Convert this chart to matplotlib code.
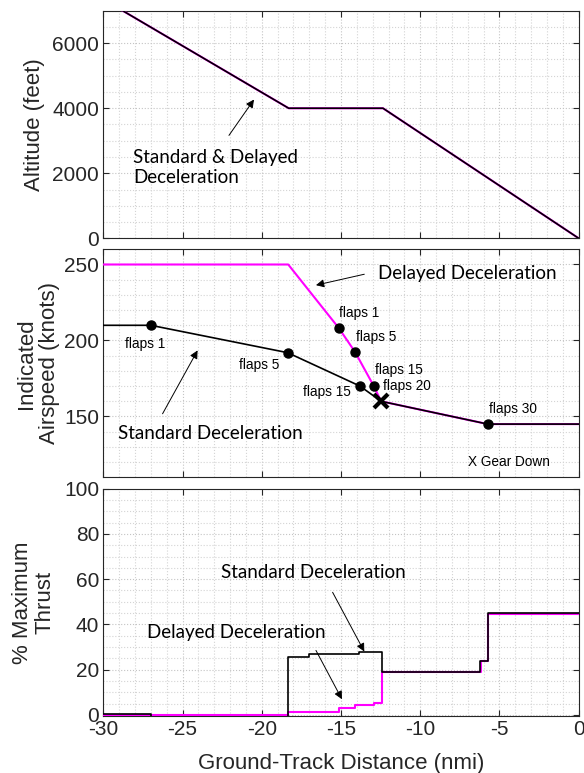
import matplotlib
matplotlib.use("Agg")
import matplotlib.pyplot as plt
from matplotlib.ticker import MultipleLocator

plt.rcParams["axes.unicode_minus"] = False

# ---------------- data ----------------
# Altitude profile (same for standard & delayed)
alt_x = [-30.0, -18.3, -12.35, 0.0]
alt_y = [7350, 4000, 4000, 0]

# Indicated airspeed
std_spd_x = [-30.0, -27.0, -18.37, -13.8, -12.47, -5.74, 0.0]
std_spd_y = [210, 210, 192, 170, 160, 145, 145]
del_spd_x = [-30.0, -18.33, -15.14, -14.11, -12.93, -12.47, -5.74, 0.0]
del_spd_y = [250, 250, 208.2, 192.4, 170, 160, 145, 145]

# Flap-change markers
std_flap_x = [-27.0, -18.37, -13.8, -5.74]
std_flap_y = [210, 192, 170, 145]
del_flap_x = [-15.14, -14.11, -12.93]
del_flap_y = [208.2, 192.4, 170]
gear_x = [-12.47]
gear_y = [160]

# Thrust (% max), step functions
std_thr_x = [-30.0, -27.0, -18.35, -17.0, -13.85, -12.42, -6.2, -5.7, 0.0]
std_thr_y = [0.5, -1.0, 25.5, 27.0, 27.8, 19.0, 24.0, 45.0, 45.0]
del_thr_x = [-30.0, -18.35, -15.1, -14.1, -12.93, -12.42, -6.17, -5.71, 0.0]
del_thr_y = [0.0, 1.2, 3.0, 4.4, 5.4, 18.8, 23.8, 44.8, 44.8]

MAG = "#ff00ff"
LBL_FONT = "Liberation Sans"
ANN_FONT = "Lato"
TXT = "#262626"

fig = plt.figure(figsize=(5.84, 7.73), dpi=100)
W, H = 584.0, 773.0
left = 103.3 / W
width = 475.4 / W

def mk_axes(top_px, bot_px):
    return fig.add_axes([left, 1 - bot_px / H, width, (bot_px - top_px) / H])

ax1 = mk_axes(10.7, 238.3)
ax2 = mk_axes(249.3, 477.3)
ax3 = mk_axes(488.7, 716.0)

def style(ax, ymaj, ymin):
    ax.set_xlim(-30, 0)
    ax.xaxis.set_major_locator(MultipleLocator(5))
    ax.xaxis.set_minor_locator(MultipleLocator(1))
    ax.yaxis.set_major_locator(MultipleLocator(ymaj))
    ax.yaxis.set_minor_locator(MultipleLocator(ymin))
    ax.grid(which="major", linestyle=":", color="#c4c4c4", linewidth=0.8)
    ax.grid(which="minor", linestyle=":", color="#d4d4d4", linewidth=0.8)
    ax.set_axisbelow(True)
    ax.tick_params(which="major", direction="in", length=4, width=0.8,
                   top=True, right=True, labelsize=15, colors=TXT,
                   labelcolor=TXT, pad=3)
    ax.tick_params(which="minor", length=0, top=True, right=True)
    for s in ax.spines.values():
        s.set_color(TXT)
        s.set_linewidth(0.8)
    for lab in ax.get_xticklabels() + ax.get_yticklabels():
        lab.set_fontfamily(LBL_FONT)

arrow_kw = dict(arrowstyle="-|>", color="k", lw=0.7, mutation_scale=12,
                shrinkA=0, shrinkB=0)

# ---------------- top: altitude ----------------
ax1.plot(alt_x, alt_y, color=MAG, lw=1.5, zorder=3)
ax1.plot(alt_x, alt_y, color="black", lw=1.2, zorder=4)
ax1.set_ylim(0, 7000)
style(ax1, 2000, 500)
ax1.set_xticklabels([])
ax1.set_ylabel("Altitude (feet)", fontsize=16, family=LBL_FONT, color=TXT)
ax1.yaxis.set_label_coords(-0.1226, 0.5)
ax1.text(-28.1, 2180, "Standard & Delayed\nDeceleration", fontsize=13.5,
         family=ANN_FONT, ha="left", va="center", linespacing=1.25)
ax1.annotate("", xy=(-20.49, 4268), xytext=(-22.07, 3165), arrowprops=arrow_kw)

# ---------------- middle: airspeed ----------------
ax2.plot(del_spd_x, del_spd_y, color=MAG, lw=1.5, zorder=3)
ax2.plot(std_spd_x, std_spd_y, color="black", lw=1.2, zorder=4)
ax2.plot(std_flap_x, std_flap_y, "o", color="black", ms=6.5, zorder=5)
ax2.plot(del_flap_x, del_flap_y, "o", color="black", ms=6.5, zorder=5)
ax2.plot(gear_x, gear_y, "x", color="black", ms=9.5, mew=3, zorder=6)
ax2.set_ylim(110, 260)
style(ax2, 50, 10)
ax2.set_xticklabels([])
ax2.set_ylabel("Indicated\nAirspeed (knots)", fontsize=16, family=LBL_FONT,
               color=TXT, linespacing=1.1)
ax2.yaxis.set_label_coords(-0.091, 0.5)

flap_labels = [
    ("flaps 1", -27.34, 197.6),
    ("flaps 5", -20.18, 184.1),
    ("flaps 15", -15.86, 165.9),
    ("flaps 1", -13.84, 218.3),
    ("flaps 5", -12.77, 202.0),
    ("flaps 15", -11.32, 180.8),
    ("flaps 20", -10.87, 170.3),
    ("flaps 30", -4.16, 155.0),
    ("X Gear Down", -4.41, 120.0),
]
for t, x, y in flap_labels:
    ax2.text(x, y, t, fontsize=9.8, family=LBL_FONT, ha="center", va="center")

ax2.text(-7.04, 244.1, "Delayed Deceleration", fontsize=13.5, family=ANN_FONT,
         ha="center", va="center")
ax2.annotate("", xy=(-16.58, 236.4), xytext=(-13.53, 243.6), arrowprops=arrow_kw)
ax2.text(-23.27, 138.9, "Standard Deceleration", fontsize=13.5, family=ANN_FONT,
         ha="center", va="center")
ax2.annotate("", xy=(-24.05, 193.5), xytext=(-26.26, 151.8), arrowprops=arrow_kw)

# ---------------- bottom: thrust ----------------
ax3.plot(del_thr_x, del_thr_y, color=MAG, lw=1.5, drawstyle="steps-post", zorder=3)
ax3.plot(std_thr_x, std_thr_y, color="black", lw=1.2, drawstyle="steps-post", zorder=4)
ax3.set_ylim(-0.5, 100)
style(ax3, 20, 5)
ax3.set_ylabel("% Maximum\nThrust", fontsize=16, family=LBL_FONT,
               color=TXT, linespacing=1.1)
ax3.yaxis.set_label_coords(-0.0995, 0.5)
ax3.set_xlabel("Ground-Track Distance (nmi)", fontsize=16, family=LBL_FONT,
               color=TXT, labelpad=10)

ax3.text(-16.75, 62.9, "Standard Deceleration", fontsize=13.5, family=ANN_FONT,
         ha="center", va="center")
ax3.annotate("", xy=(-13.53, 28.0), xytext=(-15.53, 54.2), arrowprops=arrow_kw)
ax3.text(-21.6, 36.3, "Delayed Deceleration", fontsize=13.5, family=ANN_FONT,
         ha="center", va="center")
ax3.annotate("", xy=(-14.94, 6.9), xytext=(-16.58, 28.5), arrowprops=arrow_kw)

fig.savefig("out.png", dpi=100)
